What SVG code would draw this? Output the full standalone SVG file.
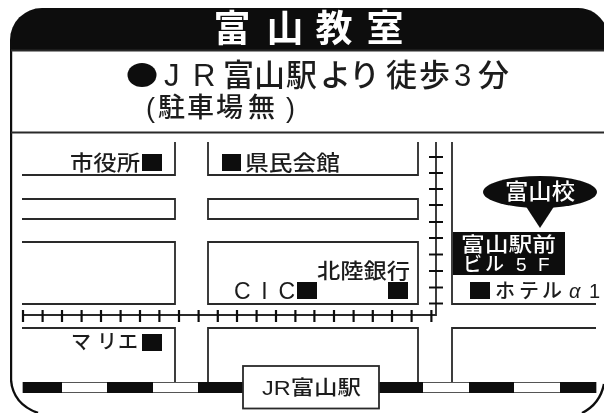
<svg xmlns="http://www.w3.org/2000/svg" width="604" height="414" viewBox="0 0 604 414">
<defs>
<style>
text{font-family:"Liberation Sans","Noto Sans CJK JP",sans-serif;fill:#1c1c1c;font-weight:500}
.w{fill:#fff}
.l{fill:none;stroke:#2a2a2a;stroke-width:1.8}
.o{fill:none;stroke:#0d0d0d;stroke-width:2.4}
.t{stroke:#111;stroke-width:2.2}
.k{fill:#0d0d0d}
.h{font-size:37px;font-weight:700;fill:#fff;text-anchor:middle}
</style>
<filter id="b" x="0" y="0" width="100%" height="100%"><feGaussianBlur stdDeviation="0.45"/></filter>
</defs>
<rect width="604" height="414" fill="#fff"/>
<g filter="url(#b)">
<g id="frame">
<path d="M10 50V40A32 32 0 0 1 42 8H578Q596 8 606 26V50Z" class="k"/>
<path class="o" d="M11 50V380Q13 404 38 413"/>
<path class="o" d="M604 384Q600 404 582 413"/>
<path class="l" d="M11 50.500H604"/>
<path class="l" d="M11 132.500H604"/>
<text class="h" x="232" y="42">富</text>
<text class="h" x="285" y="42">山</text>
<text class="h" x="334" y="42">教</text>
<text class="h" x="385" y="42">室</text>
</g>
<g id="access">
<ellipse cx="142" cy="75" rx="14.500" ry="12" class="k"/>
<text y="85.500" font-size="31" x="164 193 223 254 286 320 349 386 419 454 478">JR富山駅より徒歩3分</text>
<text y="117" font-size="27" x="146 158 187 216 248 286">(駐車場無)</text>
</g>
<g id="blocks">
<path class="l" d="M22 175H175V142"/>
<path class="l" d="M208 142V175H418V142"/>
<path class="l" d="M22 199H175V219H22"/>
<path class="l" d="M418 199H208V219H418Z"/>
<path class="l" d="M22 242H175V304H22"/>
<path class="l" d="M208 304V242H418V304Z"/>
<path class="l" d="M22 328H175V382"/>
<path class="l" d="M208 382V328H418V382"/>
<path class="l" d="M452 382V328H596"/>
<path class="l" d="M452 142V304H596"/>
</g>
<g id="connectors">
<path class="l" d="M23 315H436V142"/>
<path class="t" d="M23 310V322M42.600 310V322M62 310V322M81.600 310V322M101 310V322M120.600 310V322M140 310V322M159.400 310V322M179 310V322M198.600 310V322M217.800 310V322M237 310V322M256.600 310V322M276 310V322M295.400 310V322M314.400 310V322M334 310V322M353.600 310V322M372.800 310V322M392 310V322M411.600 310V322M431.400 310V322"/>
<path class="t" d="M429 157H443M429 173H443M429 189H443M429 205H443M429 222H443M429 238H443M429 254.500H443M429 271H443M429 287.500H443M429 303.500H443"/>
<rect x="23" y="382.500" width="573" height="10" fill="#fff" stroke="#555" stroke-width="1"/>
<path class="k" d="M23 382H62V393H23ZM107 382H153V393H107ZM198 382H243V393H198ZM379 382H423V393H379ZM469 382H514V393H469ZM560 382H596V393H560Z"/>
</g>
<g id="station">
<rect x="243" y="366" width="136" height="42.500" fill="#fff" stroke="#2a2a2a" stroke-width="1.800"/>
<text x="262" y="395" font-size="20" textLength="99" lengthAdjust="spacingAndGlyphs">JR富山駅</text>
</g>
<g id="shiyakusho">
<text x="70" y="170" font-size="21" textLength="70" lengthAdjust="spacingAndGlyphs">市役所</text>
<rect x="142" y="154" width="20" height="17" class="k"/>
</g>
<g id="kenmin">
<rect x="222" y="154" width="19" height="17" class="k"/>
<text x="245" y="170" font-size="21" textLength="95" lengthAdjust="spacingAndGlyphs">県民会館</text>
</g>
<g id="hokuriku">
<text x="317" y="278" font-size="21" textLength="93" lengthAdjust="spacingAndGlyphs">北陸銀行</text>
<rect x="388" y="282" width="20" height="17" class="k"/>
</g>
<g id="cic">
<text x="234" y="299" font-size="23" textLength="61" lengthAdjust="spacing">CIC</text>
<rect x="297" y="282" width="20" height="17" class="k"/>
</g>
<g id="hotel">
<rect x="470" y="282" width="20" height="17" class="k"/>
<text y="298" font-size="20" x="495 519 542 569 589">ホテル<tspan font-style="italic">α</tspan>1</text>
</g>
<g id="marie">
<text y="349" font-size="20" x="71 97 118">マリエ</text>
<rect x="142" y="334" width="20" height="17" class="k"/>
</g>
<g id="school">
<ellipse cx="540" cy="192" rx="57" ry="16" class="k"/>
<path class="k" d="M525 205H555L540 228Z"/>
<text class="w" x="505" y="199" font-size="22" textLength="70" lengthAdjust="spacingAndGlyphs">富山校</text>
</g>
<g id="building">
<rect x="453" y="232" width="112" height="43" class="k"/>
<text class="w" x="461" y="252" font-size="20" textLength="95" lengthAdjust="spacingAndGlyphs">富山駅前</text>
<text class="w" y="271" font-size="19" x="463 485 516 538">ビル5F</text>
</g>
</g>
</svg>
